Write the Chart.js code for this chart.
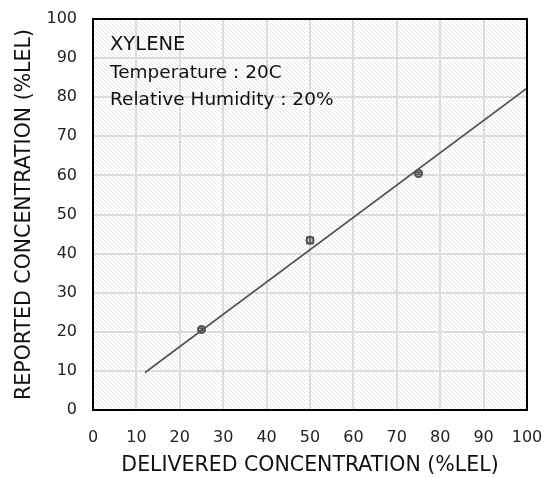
<!DOCTYPE html>
<html>
<head>
<meta charset="utf-8">
<script src="https://cdn.jsdelivr.net/npm/chart.js@4.4.0/dist/chart.umd.min.js"></script>
<style>
  html, body { margin: 0; padding: 0; background: #fff; }
  #wrap { width: 546px; height: 478px; }
</style>
</head>
<body>
<div id="wrap"><canvas id="grafica" width="546" height="478"></canvas></div>
<script>
// Datos
const delivered = [25, 50, 75];
const reported = [20.6, 43.4, 60.5];
const errorBars = [0.3, 0.8, 0.3];
const trendX = [12, 100];
const trendY = [9.6, 82.3];
const tickValues = [0, 10, 20, 30, 40, 50, 60, 70, 80, 90, 100];
const notes = ["XYLENE", "Temperature : 20C", "Relative Humidity : 20%"];

const FONT = "'DejaVu Sans', sans-serif";

// Fondo rayado del área de trazado
function hatchPattern(ctx) {
  const c = document.createElement("canvas");
  c.width = 4; c.height = 4;
  const p = c.getContext("2d");
  p.fillStyle = "#ffffff";
  p.fillRect(0, 0, 4, 4);
  p.strokeStyle = "#e6e6e6";
  p.lineWidth = 1;
  p.beginPath();
  p.moveTo(0, 0); p.lineTo(4, 4);
  p.moveTo(-1, 3); p.lineTo(1, 5);
  p.moveTo(3, -1); p.lineTo(5, 1);
  p.stroke();
  return ctx.createPattern(c, "repeat");
}

const plotBackground = {
  id: "plotBackground",
  beforeDraw(chart) {
    const { ctx, chartArea: a } = chart;
    ctx.save();
    ctx.fillStyle = hatchPattern(ctx);
    ctx.fillRect(a.left, a.top, a.right - a.left, a.bottom - a.top);
    ctx.restore();
  },
  afterDatasetsDraw(chart) {
    const { ctx, chartArea: a, scales } = chart;
    ctx.save();
    // barras de error
    ctx.strokeStyle = "#555";
    ctx.lineWidth = 1.5;
    delivered.forEach((x, i) => {
      const px = scales.x.getPixelForValue(x);
      const top = scales.y.getPixelForValue(reported[i] + errorBars[i]);
      const bot = scales.y.getPixelForValue(reported[i] - errorBars[i]);
      ctx.beginPath();
      ctx.moveTo(px, top); ctx.lineTo(px, bot);
      ctx.moveTo(px - 4, top); ctx.lineTo(px + 4, top);
      ctx.moveTo(px - 4, bot); ctx.lineTo(px + 4, bot);
      ctx.stroke();
    });
    // marco
    ctx.strokeStyle = "#000";
    ctx.lineWidth = 2;
    ctx.strokeRect(a.left, a.top, a.right - a.left, a.bottom - a.top);
    // textos
    ctx.fillStyle = "#111";
    ctx.textBaseline = "middle";
    ctx.font = "19.5px " + FONT;
    ctx.fillText(notes[0], a.left + 17, a.top + 26);
    ctx.font = "18.5px " + FONT;
    ctx.fillText(notes[1], a.left + 17, a.top + 54);
    ctx.fillText(notes[2], a.left + 17, a.top + 81);
    ctx.restore();
  }
};

const ctx = document.getElementById("grafica").getContext("2d");
new Chart(ctx, {
  type: "scatter",
  data: {
    datasets: [
      {
        label: "Trend",
        type: "line",
        data: trendX.map((x, i) => ({ x: x, y: trendY[i] })),
        borderColor: "#555555",
        borderWidth: 1.7,
        pointRadius: 0,
        fill: false
      },
      {
        label: "Xylene",
        data: delivered.map((x, i) => ({ x: x, y: reported[i] })),
        backgroundColor: "#bbbbbb",
        borderColor: "#555555",
        borderWidth: 2,
        pointRadius: 3.5
      }
    ]
  },
  plugins: [plotBackground],
  options: {
    responsive: false,
    animation: false,
    layout: { padding: { top: 19, right: 19, left: 0, bottom: 0 } },
    plugins: { legend: { display: false }, tooltip: { enabled: false } },
    scales: {
      x: {
        type: "linear",
        min: 0, max: 100,
        afterBuildTicks: (s) => { s.ticks = tickValues.map(v => ({ value: v })); },
        afterFit: (s) => { s.height = 68; s.paddingLeft = 0; s.paddingRight = 0; },
        grid: { color: "#dcdcdc", lineWidth: 2, drawTicks: false },
        border: { display: false },
        ticks: { color: "#222", font: { family: FONT, size: 16 }, padding: 18, maxRotation: 0 },
        title: { display: true, text: "DELIVERED CONCENTRATION (%LEL)", color: "#111",
                 font: { family: FONT, size: 20.5 }, padding: { top: 4, bottom: 0 } }
      },
      y: {
        type: "linear",
        min: 0, max: 100,
        afterBuildTicks: (s) => { s.ticks = tickValues.map(v => ({ value: v })); },
        afterFit: (s) => { s.width = 93; s.paddingTop = 0; s.paddingBottom = 0; },
        grid: { color: "#dcdcdc", lineWidth: 2, drawTicks: false },
        border: { display: false },
        ticks: { color: "#222", font: { family: FONT, size: 16 }, padding: 16 },
        title: { display: true, text: "REPORTED CONCENTRATION (%LEL)", color: "#111",
                 font: { family: FONT, size: 20.5 }, padding: { top: 12, bottom: 0 } }
      }
    }
  }
});
</script>
</body>
</html>
